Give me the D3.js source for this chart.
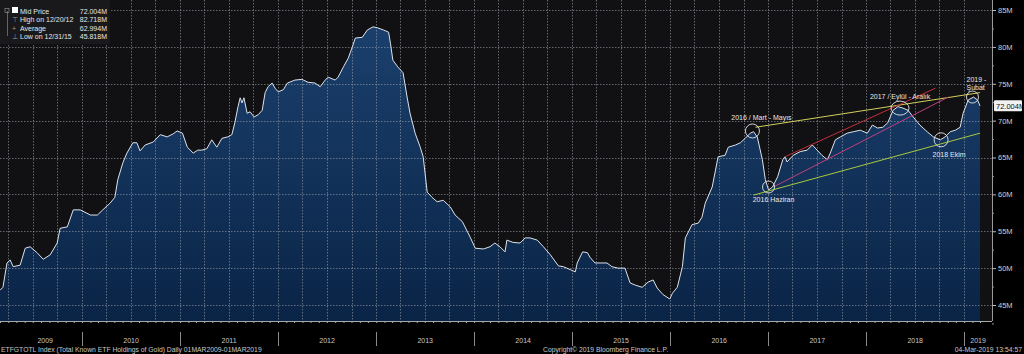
<!DOCTYPE html>
<html>
<head>
<meta charset="utf-8">
<script src="https://cdnjs.cloudflare.com/ajax/libs/d3/7.8.5/d3.min.js"></script>
<style>
    html, body { margin: 0; padding: 0; background: #000; overflow: hidden; }
    svg { display: block; }
    text { font-family: "Liberation Sans", Arial, sans-serif; }
</style>
</head>
<body>
<svg id="chart"></svg>
<script>
// ETF gold holdings (millions of oz)
const dates = [
    "2009-03-01","2009-03-12","2009-03-27","2009-04-08","2009-04-19","2009-05-15","2009-06-03","2009-06-21",
    "2009-07-17","2009-08-09","2009-09-04","2009-09-30","2009-10-11","2009-11-07","2009-11-29","2009-12-25",
    "2010-02-01","2010-02-27","2010-03-19","2010-04-15","2010-05-03","2010-05-14","2010-06-02","2010-06-17",
    "2010-07-09","2010-07-24","2010-08-05","2010-08-24","2010-09-23","2010-10-19","2010-11-14","2010-12-06",
    "2010-12-21","2011-01-10","2011-01-28","2011-02-19","2011-03-08","2011-03-23","2011-04-11","2011-04-29",
    "2011-05-18","2011-06-06","2011-06-28","2011-07-13","2011-07-24","2011-08-05","2011-08-13","2011-08-20",
    "2011-08-27","2011-09-08","2011-09-19","2011-10-04","2011-10-19","2011-11-03","2011-11-14","2011-11-25",
    "2011-12-10","2011-12-21","2012-01-02","2012-01-21","2012-02-05","2012-03-04","2012-03-30","2012-04-22",
    "2012-05-18","2012-06-06","2012-06-25","2012-07-06","2012-08-01","2012-08-12","2012-09-01","2012-09-19",
    "2012-10-04","2012-10-15","2012-11-10","2012-11-29","2012-12-20","2013-01-05","2013-01-28","2013-02-16",
    "2013-02-23","2013-03-04","2013-03-22","2013-04-11","2013-04-26","2013-05-07","2013-05-26","2013-06-14",
    "2013-06-25","2013-07-10","2013-07-28","2013-08-16","2013-09-08","2013-10-04","2013-10-22","2013-11-18",
    "2013-12-17","2014-01-05","2014-02-05","2014-03-01","2014-03-19","2014-04-07","2014-04-26","2014-05-03",
    "2014-05-25","2014-06-21","2014-07-10","2014-07-28","2014-08-24","2014-09-16","2014-10-12","2014-11-11",
    "2014-11-29","2014-12-25","2015-01-13","2015-01-20","2015-02-09","2015-02-27","2015-03-08","2015-03-27",
    "2015-04-22","2015-05-11","2015-05-29","2015-06-21","2015-07-17","2015-08-05","2015-08-24","2015-09-19",
    "2015-10-11","2015-10-30","2015-11-14","2015-12-06","2015-12-31","2016-01-10","2016-01-28","2016-02-16",
    "2016-02-27","2016-03-23","2016-04-15","2016-04-29","2016-05-11","2016-06-06","2016-06-28","2016-07-24",
    "2016-08-05","2016-09-01","2016-09-19","2016-10-07","2016-10-26","2016-11-07","2016-11-21","2016-12-10",
    "2016-12-21","2017-01-02","2017-01-17","2017-02-05","2017-02-24","2017-03-04","2017-03-12","2017-04-04",
    "2017-04-30","2017-05-26","2017-06-14","2017-07-02","2017-07-20","2017-08-09","2017-08-20","2017-09-08",
    "2017-09-27","2017-10-22","2017-11-14","2017-12-10","2018-01-05","2018-01-24","2018-02-12","2018-03-04",
    "2018-03-22","2018-04-11","2018-04-29","2018-05-18","2018-06-06","2018-06-25","2018-07-20","2018-08-16",
    "2018-09-08","2018-10-04","2018-10-22","2018-11-10","2018-11-29","2018-12-17","2018-12-28","2019-01-16",
    "2019-02-05","2019-02-20","2019-03-01"
];
const holdings = [
    47.0, 47.4, 50.7, 51.1, 50.2, 50.4, 52.7, 52.9,
    52.1, 51.2, 51.8, 53.4, 55.4, 55.6, 57.9, 57.9,
    57.2, 57.2, 57.9, 58.8, 59.6, 62.0, 64.3, 65.6,
    67.0, 67.0, 65.9, 66.7, 67.1, 68.1, 67.8, 68.2,
    68.6, 68.3, 66.4, 65.6, 66.0, 66.0, 66.2, 67.4,
    66.4, 67.6, 67.8, 68.1, 69.7, 71.9, 73.1, 72.4,
    73.1, 71.0, 71.2, 70.5, 70.8, 71.4, 73.8, 74.6,
    75.1, 74.4, 73.9, 74.2, 75.1, 75.5, 75.6, 75.2,
    75.1, 74.6, 75.5, 75.9, 75.5, 75.9, 77.3, 78.5,
    80.0, 81.2, 81.3, 82.3, 82.718, 82.6, 82.3, 82.0,
    80.5, 78.2, 77.3, 76.5, 73.2, 71.0, 68.3, 66.4,
    65.1, 60.3, 59.6, 59.0, 59.2, 58.3, 57.2, 56.3,
    54.2, 52.7, 52.6, 52.9, 53.4, 52.9, 52.2, 53.8,
    53.5, 53.4, 54.1, 54.1, 53.8, 52.9, 51.8, 50.3,
    50.2, 49.8, 49.5, 50.7, 52.2, 52.1, 51.5, 50.7,
    50.7, 50.7, 50.2, 50.0, 50.0, 48.0, 47.7, 47.4,
    48.1, 48.4, 47.3, 46.4, 45.818, 46.6, 47.4, 50.2,
    54.1, 55.9, 56.1, 56.9, 58.8, 61.0, 65.1, 65.3,
    66.4, 66.7, 67.0, 67.6, 68.3, 68.5, 67.8, 64.7,
    62.0, 60.6, 61.0, 62.4, 64.7, 65.1, 64.4, 65.3,
    65.8, 66.0, 66.7, 66.0, 65.3, 64.7, 65.6, 67.4,
    67.8, 68.3, 68.5, 68.7, 68.3, 69.4, 69.0, 69.1,
    69.7, 71.4, 71.9, 71.7, 71.4, 70.5, 69.4, 68.5,
    67.8, 67.4, 67.8, 68.5, 68.7, 69.1, 71.0, 72.8,
    73.2, 72.8, 72.004
];

const yTicks = [45, 50, 55, 60, 65, 70, 75, 80, 85];
const years = [2009, 2010, 2011, 2012, 2013, 2014, 2015, 2016, 2017, 2018, 2019];

const legendLabels = ["Mid Price", "High on 12/20/12", "Average", "Low on 12/31/15"];
const legendValues = ["72.004M", "82.718M", "62.994M", "45.818M"];
const lastValue = 72.004;

// trend lines drawn on the chart: [start date, start value, end date, end value]
const trendUpper = ["2016-11-14", 69.1, "2019-03-01", 73.8];
const trendLower = ["2016-11-07", 59.9, "2019-03-01", 68.3];
const trendRed = ["2017-03-04", 65.1, "2018-09-16", 74.4];
const trendPink = ["2017-01-20", 61.0, "2018-11-03", 73.2];

// circled points and their notes
const noteDates = ["2016-11-03", "2017-01-02", "2018-05-07", "2018-10-07", "2019-02-01"];
const noteValues = [68.6, 61.0, 71.7, 67.4, 73.2];
const noteLabels = [["2016 / Mart - Mayıs"], ["2016 Haziran"], ["2017 / Eylül - Aralık"], ["2018 Ekim"], ["2019 -", "Şubat"]];

const footerLeft = "ETFGTOTL Index (Total Known ETF Holdings of Gold)  Daily 01MAR2009-01MAR2019";
const footerMid = "Copyright\u00A9 2019 Bloomberg Finance L.P.";
const footerRight = "04-Mar-2019 13:54:57";

const width = 1024, height = 354;
const plotRight = 992, plotBottom = 321;
const parse = d3.timeParse("%Y-%m-%d");
const series = dates.map((d, i) => ({ date: parse(d), value: holdings[i] }));

const svg = d3.select("#chart").attr("width", width).attr("height", height);

const x = d3.scaleTime()
    .domain([parse("2009-03-01"), parse("2019-03-01")])
    .range([0, 980]);
const y = d3.scaleLinear()
    .domain([42.83, 86.36])
    .range([plotBottom, 0]);

// backgrounds
svg.append("rect").attr("width", width).attr("height", height).attr("fill", "#000");
svg.append("rect").attr("width", plotRight).attr("height", plotBottom).attr("fill", "#111114");

const defs = svg.append("defs");
const grad = defs.append("linearGradient").attr("id", "fillGrad")
    .attr("x1", 0).attr("y1", 0).attr("x2", 0).attr("y2", plotBottom)
    .attr("gradientUnits", "userSpaceOnUse");
grad.append("stop").attr("offset", "0%").attr("stop-color", "#1c4270");
grad.append("stop").attr("offset", "100%").attr("stop-color", "#0a2446");

// area + line
const area = d3.area().x(d => x(d.date)).y0(plotBottom).y1(d => y(d.value));
const line = d3.line().x(d => x(d.date)).y(d => y(d.value));

svg.append("path").datum(series).attr("d", area).attr("fill", "url(#fillGrad)");

// grid (on top of the area, dotted)
const grid = svg.append("g").attr("stroke", "#9aa0aa").attr("stroke-opacity", 0.6)
    .attr("stroke-dasharray", "1.5,1.5").attr("stroke-width", 1);
grid.selectAll("line.v")
    .data(d3.timeMonth.every(3).range(parse("2009-03-02"), parse("2019-03-01")))
    .join("line")
    .attr("x1", d => Math.round(x(d)) + 0.5).attr("x2", d => Math.round(x(d)) + 0.5)
    .attr("y1", 0).attr("y2", plotBottom);
grid.selectAll("line.h")
    .data(yTicks)
    .join("line")
    .attr("x1", 0).attr("x2", plotRight)
    .attr("y1", d => Math.round(y(d)) + 0.5).attr("y2", d => Math.round(y(d)) + 0.5);

svg.append("path").datum(series).attr("d", line)
    .attr("fill", "none").attr("stroke", "#dde2ea").attr("stroke-width", 1);

// trend lines
const trendColors = ["#d2cf5c", "#a9c93e", "#c2303c", "#c2407e"];
[trendUpper, trendLower, trendRed, trendPink].forEach((t, i) => {
    svg.append("line")
        .attr("x1", x(parse(t[0]))).attr("y1", y(t[1]))
        .attr("x2", x(parse(t[2]))).attr("y2", y(t[3]))
        .attr("stroke", trendColors[i]).attr("stroke-width", 1);
});

// circles and notes
const noteRx = [7, 6, 9, 7, 6];
const noteRy = [7, 6, 7, 7, 6];
const noteOffset = [[9, -11], [5, 15], [0, -9], [8, 17], [-6, -15]];
const noteAnchor = ["middle", "middle", "middle", "middle", "start"];
noteDates.forEach((d, i) => {
    const cx = x(parse(d)), cy = y(noteValues[i]);
    svg.append("ellipse")
        .attr("cx", cx).attr("cy", cy).attr("rx", noteRx[i]).attr("ry", noteRy[i])
        .attr("fill", "none").attr("stroke", "#e6e6e6").attr("stroke-width", 0.9);
    const t = svg.append("text")
        .attr("x", cx + noteOffset[i][0]).attr("y", cy + noteOffset[i][1])
        .attr("text-anchor", noteAnchor[i])
        .attr("font-size", 7).attr("fill", "#e8e8e8");
    noteLabels[i].forEach((s, j) => {
        t.append("tspan").attr("x", cx + noteOffset[i][0]).attr("dy", j ? 8 : 0).text(s);
    });
});

// right axis
svg.append("line").attr("x1", plotRight + 0.5).attr("x2", plotRight + 0.5)
    .attr("y1", 0).attr("y2", plotBottom).attr("stroke", "#9a9a9a");

const yAxis = svg.append("g")
    .attr("transform", `translate(${plotRight},0)`)
    .call(d3.axisRight(y).tickValues(yTicks).tickSize(4).tickPadding(2).tickFormat(d => d + "M"));
yAxis.select(".domain").remove();
yAxis.selectAll("line").attr("stroke", "#bbb");
yAxis.selectAll("text").attr("fill", "#cfcfcf").attr("font-size", 7.5)
    .attr("font-family", "Liberation Sans, Arial, sans-serif");

const yMinor = svg.append("g")
    .attr("transform", `translate(${plotRight},0)`)
    .call(d3.axisRight(y).tickValues(yTicks.map(v => v - 2.5)).tickSize(2).tickFormat(""));
yMinor.select(".domain").remove();
yMinor.selectAll("line").attr("stroke", "#999");

// last value tag
const tagY = y(lastValue);
svg.append("rect").attr("x", plotRight + 2).attr("y", tagY - 5.5)
    .attr("width", 28).attr("height", 11).attr("rx", 1).attr("fill", "#f2f2f2");
svg.append("text").attr("x", plotRight + 4).attr("y", tagY + 3)
    .attr("font-size", 7.5).attr("fill", "#111").text(lastValue.toFixed(3) + "M");

// bottom axis
svg.append("line").attr("x1", 0).attr("x2", plotRight)
    .attr("y1", plotBottom + 0.5).attr("y2", plotBottom + 0.5).attr("stroke", "#aaa");
const xAxis = svg.append("g")
    .attr("transform", `translate(0,${plotBottom})`)
    .call(d3.axisBottom(x).ticks(d3.timeMonth.every(1)).tickSize(2).tickFormat(""));
xAxis.select(".domain").remove();
xAxis.selectAll("line").attr("stroke", "#aaa");

const yearStarts = years.slice(1).map(yr => new Date(yr, 0, 1));
svg.selectAll("line.sep").data(yearStarts).join("line")
    .attr("x1", d => Math.round(x(d)) + 0.5).attr("x2", d => Math.round(x(d)) + 0.5)
    .attr("y1", 332).attr("y2", 346).attr("stroke", "#8a8a8a");

svg.selectAll("text.year").data(years).join("text")
    .attr("x", yr => {
        const a = Math.max(x(new Date(yr, 0, 1)), x(parse("2009-04-01")));
        const b = Math.min(x(new Date(yr + 1, 0, 1)), plotRight);
        return (a + b) / 2;
    })
    .attr("y", 343)
    .attr("text-anchor", "middle").attr("font-size", 7).attr("fill", "#c8c8c8")
    .text(d => d);

// footer
svg.append("text").attr("x", 1).attr("y", 352).attr("font-size", 6.8).attr("fill", "#c8c8c8").text(footerLeft);
svg.append("text").attr("x", 543).attr("y", 352).attr("font-size", 6.8).attr("fill", "#c8c8c8").text(footerMid);
svg.append("text").attr("x", 1022).attr("y", 352).attr("text-anchor", "end")
    .attr("font-size", 6.8).attr("fill", "#c8c8c8").text(footerRight);

// legend box
const lg = svg.append("g");
lg.append("rect").attr("width", 110).attr("height", 44).attr("fill", "#19191c");
lg.append("line").attr("x1", 7.5).attr("x2", 7.5).attr("y1", 11).attr("y2", 36)
    .attr("stroke", "#777").attr("stroke-width", 0.8);
lg.append("rect").attr("x", 5).attr("y", 8.5).attr("width", 4).attr("height", 4)
    .attr("fill", "none").attr("stroke", "#888").attr("stroke-width", 0.7);
lg.append("rect").attr("x", 12).attr("y", 7).attr("width", 6).attr("height", 6).attr("fill", "#fff");
const rowY = [13.5, 22, 30.5, 39];
const glyphs = ["", "\u22A4", "+", "\u22A5"];
legendLabels.forEach((lab, i) => {
    if (i > 0) {
        lg.append("text").attr("x", 12).attr("y", rowY[i]).attr("font-size", 7)
            .attr("fill", "#9a9a9a").text(glyphs[i]);
    }
    lg.append("text").attr("x", 20).attr("y", rowY[i]).attr("font-size", 7)
        .attr("fill", "#e6e6e6").text(lab);
    lg.append("text").attr("x", 107).attr("y", rowY[i]).attr("font-size", 7)
        .attr("text-anchor", "end").attr("fill", "#e6e6e6").text(legendValues[i]);
});
</script>
</body>
</html>
